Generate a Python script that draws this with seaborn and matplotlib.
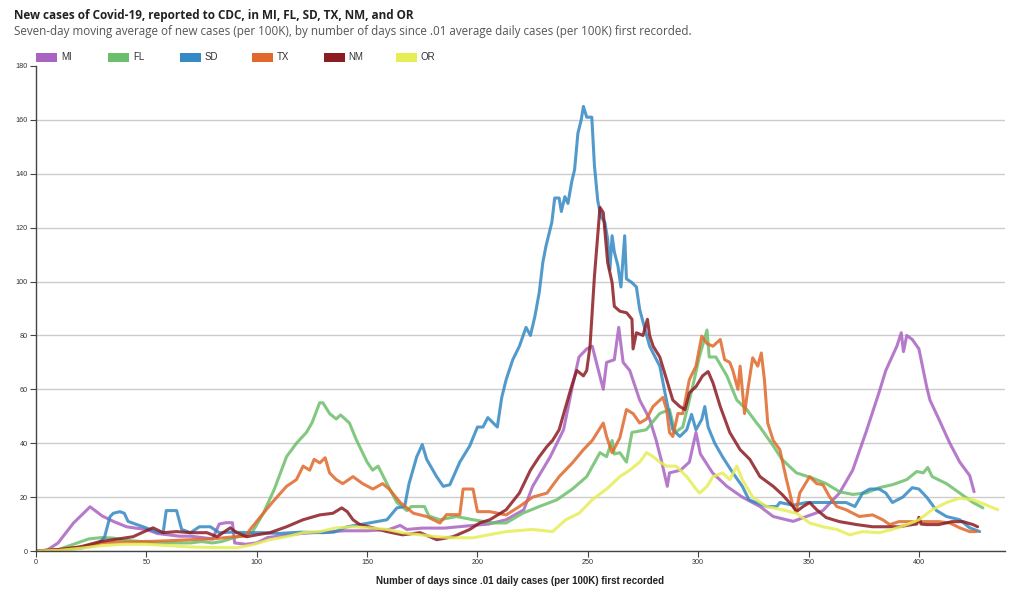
import matplotlib
matplotlib.use("Agg")
import matplotlib.pyplot as plt
from matplotlib.patches import Rectangle
import seaborn as sns
import pandas as pd

# ---------------- data ----------------
states = ["MI", "FL", "SD", "TX", "NM", "OR"]
colors = ["#a963c2", "#6cbf6a", "#3589c4", "#e0692b", "#8b1c22", "#e6ed55"]

mi_days = [0, 5, 10, 17, 24.5, 30, 35, 41, 45, 50, 55, 60, 65, 70, 75, 80, 83, 86, 89, 90, 95, 100, 105, 110, 120,
           130, 140, 150, 160, 165, 168, 175, 185, 198, 205, 213, 221, 225, 233, 239, 243, 246, 249.5, 252, 257,
           258.5, 262, 264, 266, 269, 273.5, 278, 281, 283.5, 286, 287, 292, 296, 299, 301, 306.5, 313, 320, 328,
           334, 343, 349, 356.5, 364, 370, 376, 382, 385, 390, 392, 393, 394.5, 397, 400, 403.5, 405, 409, 414,
           418.5, 423, 425]
mi_vals = [0, 0.3, 3, 10.4, 16.4, 13, 11, 9, 8.5, 8, 6.5, 6, 5.5, 5.5, 5, 4.5, 10, 10.5, 10.5, 3, 2.5, 3, 5, 5.5, 6.5,
           7, 7.5, 7.5, 8, 9.5, 8, 8.5, 8.5, 9.5, 10, 11.6, 15.3, 24, 35, 45, 61, 72, 75, 76, 60,
           70, 71, 83, 70, 67, 56, 49, 41, 33, 24, 29, 30, 33, 44, 36, 29, 24, 20, 16.5,
           12.8, 11, 12.8, 15, 21.5, 30, 44, 59, 67, 76, 81, 74, 80, 78.5, 75, 61, 56, 49, 40,
           33, 28, 22]

fl_days = [0, 10, 17, 24, 30, 35, 40, 48, 55, 62, 70, 75, 80, 84, 90, 95, 98, 103, 108, 113.5, 118, 122.5, 125,
           128.5, 130, 133, 136, 138, 140, 142, 145, 150, 152.5, 155, 159, 163.5, 168, 170, 176, 178, 183, 190.5,
           198, 207, 213, 220.5, 228, 236, 243, 249.5, 255.5, 258.5, 261, 262, 264.5, 267.5, 270, 276.5, 282.5,
           287, 289.5, 293, 297.5, 300.5, 304, 305, 308, 313, 317.5, 322, 326.5, 328, 334, 338, 344.5, 352, 358,
           364, 370, 376, 382, 388, 394.5, 399, 402, 404, 406, 412.5, 418.5, 424.5, 429]
fl_vals = [0, 0.5, 2.5, 4.5, 5, 4.8, 4, 3.5, 3, 3, 3, 3.5, 3, 3.5, 5, 6, 7, 14, 23, 35, 40, 44, 47.5,
           55, 55, 51, 49, 50.5, 49, 47.5, 41.5, 33, 30, 31.5, 25, 18, 15, 16.5, 16.5, 13, 11.6, 12.8,
           11.6, 10.4, 10.4, 14, 16.5, 19, 23, 27.6, 36.5, 35, 41, 36, 36.5, 33, 44, 45, 51,
           52.5, 44, 46, 61, 72, 82, 72, 72, 65, 56, 52.5, 47.5, 46, 39, 34, 29, 27, 25,
           22, 21, 21.5, 23.5, 24.6, 26.5, 29.5, 29, 31, 27.6, 25, 21.5, 18, 16]

sd_days = [0, 10, 20, 28, 31, 33.5, 35, 38, 40, 41.7, 45, 48.5, 55, 57.6, 59, 63.7, 66, 70, 74, 79, 83, 89, 95.5,
           103, 110, 120, 130, 135, 141, 151, 159, 163.5, 167, 169, 172.5, 175, 177, 181.5, 184.5, 187.5, 192,
           196.5, 200, 202.5, 204.7, 209, 211, 213, 216, 219, 222, 224, 226, 228, 229.6, 231, 233.7, 235, 237,
           238, 239.6, 241, 242.7, 244, 245.5, 247, 248, 249.5, 251.8, 253, 254.5, 256, 257.7, 259, 260, 261,
           262, 263.6, 265, 266.7, 267.5, 270, 272, 273.5, 276, 278, 282.6, 285.6, 288.5, 291.7, 294.8, 297,
           299, 301.6, 303, 304.5, 307.5, 311, 315.7, 320, 323, 331, 335.6, 337, 343, 349, 355, 361, 367, 371,
           374.5, 377.7, 382, 385, 388, 392.7, 397, 400, 403.5, 408, 412.5, 418.5, 423, 427.5]
sd_vals = [0, 0.3, 1, 2.5, 5, 12.7, 14, 14.6, 14, 11, 10, 9, 7, 6.8, 15, 15, 8, 6.8, 9, 9, 6.8, 7, 6.8,
           6.8, 6.5, 7, 6.8, 7, 9, 10.4, 11.6, 16, 16.5, 25, 35, 39.5, 34, 27.6, 24, 24.6, 33,
           39, 46, 46, 49.5, 46, 57, 63.6, 71, 76, 83, 80, 87, 96, 107, 113, 122, 131, 131,
           126, 131.5, 129, 137, 141.5, 155, 160, 165, 161, 161, 143, 130, 124, 122, 115.6, 104.5, 117,
           111, 106, 98, 117, 101, 99.6, 98, 89.6, 82, 76, 68.6, 56, 45, 42.5, 45, 50.7,
           45, 48.8, 53.6, 46, 40, 35, 29, 24, 19, 16.5, 16.5, 18, 17, 18, 18, 18, 18, 16.5,
           21.5, 23, 23, 21.5, 18, 20, 23.5, 23, 20, 15, 12.8, 11.6, 8.6, 7.2]

tx_days = [0, 10, 20, 30, 40, 50, 60, 70, 80, 90, 95, 97, 103, 107, 113.5, 118, 121, 124, 126, 128.6, 131, 133,
           136, 139, 143.6, 148, 152.6, 157, 160, 165, 171, 177, 183, 186, 192, 193.5, 198, 200, 205.6, 213, 219,
           225, 231.5, 237, 243, 248, 252, 257, 258.5, 261, 264.5, 267.5, 270.5, 273.5, 276.6, 279.5, 284, 285.7,
           287, 288.5, 290.8, 293, 296, 299, 301.6, 304, 306.7, 310, 312, 314.3, 315.7, 318, 319, 321, 322.5,
           324.7, 327, 328.6, 330, 331.5, 334, 337, 340, 343, 344.5, 346, 350.5, 353.7, 356.5, 359.6, 362.8, 367,
           373, 379, 383.6, 386.8, 391, 397, 403.5, 409, 414, 418.5, 423, 426]
tx_vals = [0, 0.5, 1.5, 3, 3.3, 3.5, 3.8, 4.2, 4.5, 5.3, 5.5, 8, 14, 18, 24, 26.5, 31.5, 30, 34, 32.7, 34.6, 29,
           26.5, 25, 27.6, 25, 23, 25, 23, 18, 14, 12.8, 10.4, 13.5, 13.5, 23, 23, 14.6, 14.6, 13.4, 16.5,
           20, 21.5, 27.6, 32.7, 37.6, 41, 47.5, 42.5, 36.5, 42, 52.5, 51, 47.5, 49, 53.6, 57, 52.5,
           44, 42.5, 51, 51, 63.6, 68.6, 79.7, 77, 76, 78.5, 71, 70, 67, 60, 68.6, 51, 60,
           71.7, 68.6, 73.5, 63.6, 47.5, 41, 37.6, 26.5, 16.5, 15, 21.5, 27.6, 25, 24.6, 20, 16.5, 15.3,
           12.8, 13.4, 11.6, 9.8, 10.9, 10.9, 10.9, 10.9, 10.4, 8.6, 7.2, 7.2]

nm_days = [0, 10, 20, 29, 35, 44, 48.5, 53, 57.6, 63.7, 70, 77.4, 82, 88, 91, 95.5, 100, 106, 113.5, 121, 128.6,
           134.5, 138.5, 141, 143.6, 146.7, 152.6, 159, 166, 174, 181.6, 189, 196.5, 201, 205.6, 213, 219, 224,
           228, 231.5, 234, 237, 240, 242.6, 245, 248, 249.5, 251, 253, 255.5, 257, 259, 261, 262, 264.5, 267.6,
           270, 270.5, 272, 275, 277, 278, 279.6, 282.6, 285.7, 288.5, 291.7, 294, 296, 299, 302, 304.5, 306.7,
           310, 314.3, 319, 323.4, 328, 334, 338, 343, 344.5, 347.5, 350.5, 353.7, 358, 364, 371.8, 379, 385,
           391, 397, 399, 400, 401, 403.5, 409, 415, 420, 424.5, 426.6]
nm_vals = [0, 0.5, 1.5, 3.5, 4.2, 5.3, 7, 8.6, 6.8, 7.2, 6.8, 6.8, 5.3, 8.6, 6.8, 5.3, 6, 6.8, 9, 11.6, 13.4,
           14, 16, 14.6, 11.6, 9.8, 8.6, 7.2, 6, 6.8, 4.2, 5.3, 8, 10.4, 11.6, 15.3, 21.5, 30,
           35, 38.8, 41, 45, 53.6, 61, 67, 65, 67, 76, 102, 127.5, 125.6, 107, 99.6, 90.8, 89, 88.4,
           86, 75, 81, 80, 86, 80, 76, 72, 63.6, 56, 53.6, 52.5, 58.7, 61, 65, 66.6, 62.4,
           53.6, 44, 37.6, 34, 27.6, 24, 21, 16.5, 14.6, 16.5, 18, 15.3, 12.4, 10.9, 9.8, 9, 9,
           9, 9.8, 10, 12.5, 10, 9.8, 9.8, 10.9, 10.9, 9.8, 9]

or_days = [0, 10, 20, 30, 40, 50, 60, 70, 80, 91, 98, 106, 113.5, 121, 128.6, 136, 143.6, 151, 159, 166, 174,
           181.6, 189, 198, 205, 213, 225, 234, 240, 246, 252, 258.5, 264.5, 269, 273.5, 276.6, 279.6, 282.6,
           285.7, 290, 294.8, 299, 300.7, 304, 306.7, 311, 314.3, 317.5, 320, 324.7, 331, 338, 344.5, 350.5,
           356.5, 362.8, 368.6, 374.5, 382, 388, 394.5, 400, 406, 412.5, 418.5, 424.5, 430.7, 435.7]
or_vals = [0, 0.2, 1, 2, 2.5, 2.5, 2, 1.5, 1.3, 1.2, 2.3, 4.2, 5.3, 6.8, 7.2, 8.6, 9, 8.6, 8, 6.8, 6,
           5.3, 4.9, 4.9, 6, 7.2, 8, 7.2, 11.6, 14, 19, 23, 27.6, 30, 33, 36.5, 35, 33,
           31.5, 31.5, 27.6, 23, 21.5, 24, 27.6, 29, 26.5, 31.5, 26.5, 20, 16.5, 15.3, 14, 10.4,
           9, 8, 6, 7.2, 6.8, 8, 9.8, 11.6, 15.3, 18, 19.6, 19, 17, 15.3]

x_ticks = [0, 50, 100, 150, 200, 250, 300, 350, 400]
y_ticks = [0, 20, 40, 60, 80, 100, 120, 140, 160, 180]

title = "New cases of Covid-19, reported to CDC, in MI, FL, SD, TX, NM, and OR"
subtitle = ("Seven-day moving average of new cases (per 100K), by number of days since .01 average "
            "daily cases (per 100K) first recorded.")
x_label = "Number of days since .01 daily cases (per 100K) first recorded"

# ---------------- long-form table ----------------
series = {
    "MI": (mi_days, mi_vals), "FL": (fl_days, fl_vals), "SD": (sd_days, sd_vals),
    "TX": (tx_days, tx_vals), "NM": (nm_days, nm_vals), "OR": (or_days, or_vals),
}
rows = []
for st in states:
    d, v = series[st]
    for a, b in zip(d, v):
        rows.append((st, a, b))
df = pd.DataFrame(rows, columns=["state", "day", "cases"])
palette = dict(zip(states, colors))

# ---------------- figure ----------------
sns.set_theme(style="white")
plt.rcParams["font.family"] = ["Open Sans", "DejaVu Sans"]

W, H = 1024, 595
fig = plt.figure(figsize=(W / 100, H / 100), dpi=100)
fig.patch.set_facecolor("white")
ax = fig.add_axes([36 / W, 1 - 551 / H, (1005 - 36) / W, (551 - 66) / H])

sns.lineplot(data=df, x="day", y="cases", hue="state", hue_order=states, palette=palette,
             estimator=None, sort=False, linewidth=2.2, alpha=0.85, legend=False, ax=ax)

ax.set_xlim(0, 439)
ax.set_ylim(0, 180)
ax.set_xticks(x_ticks)
ax.set_yticks(y_ticks)
narrow = ["Liberation Sans Narrow", "Liberation Sans", "DejaVu Sans"]
ax.set_xticklabels([str(t) for t in x_ticks], fontsize=5.2, color="#333333", family=narrow)
ax.set_yticklabels([str(t) for t in y_ticks], fontsize=5.2, color="#333333", family=narrow)
ax.tick_params(axis="both", direction="out", length=4, width=0.8, color="#444444", pad=2,
               left=True, bottom=True)
ax.yaxis.grid(True, color="#cccccc", linewidth=1)
ax.xaxis.grid(False)
gl = ax.get_ygridlines()
gl[-1].set_visible(False)
ax.set_axisbelow(True)
for s in ["top", "right"]:
    ax.spines[s].set_visible(False)
for s in ["left", "bottom"]:
    ax.spines[s].set_color("#444444")
    ax.spines[s].set_linewidth(1)
ax.set_xlabel(x_label, fontsize=7, fontweight="bold", color="#222222", family=narrow, labelpad=7)
ax.set_ylabel("")

# title / subtitle
fig.text(14 / W, 1 - 15 / H, title, fontsize=8.5, fontweight="bold", color="#222222", va="center", ha="left")
fig.text(14 / W, 1 - 32 / H, subtitle, fontsize=8.4, color="#555555", va="center", ha="left")

# legend
for i, (st, c) in enumerate(zip(states, colors)):
    x0 = 36 + i * 71.9
    fig.patches.append(Rectangle((x0 / W, 1 - 62 / H), 21 / W, 9 / H, transform=fig.transFigure,
                                 facecolor=c, edgecolor="none"))
    fig.text((x0 + 25) / W, 1 - 57.5 / H, st, fontsize=7, color="#333333", va="center", ha="left",
             family=["Liberation Sans", "DejaVu Sans"])

fig.savefig("out.png", dpi=100, facecolor="white")
